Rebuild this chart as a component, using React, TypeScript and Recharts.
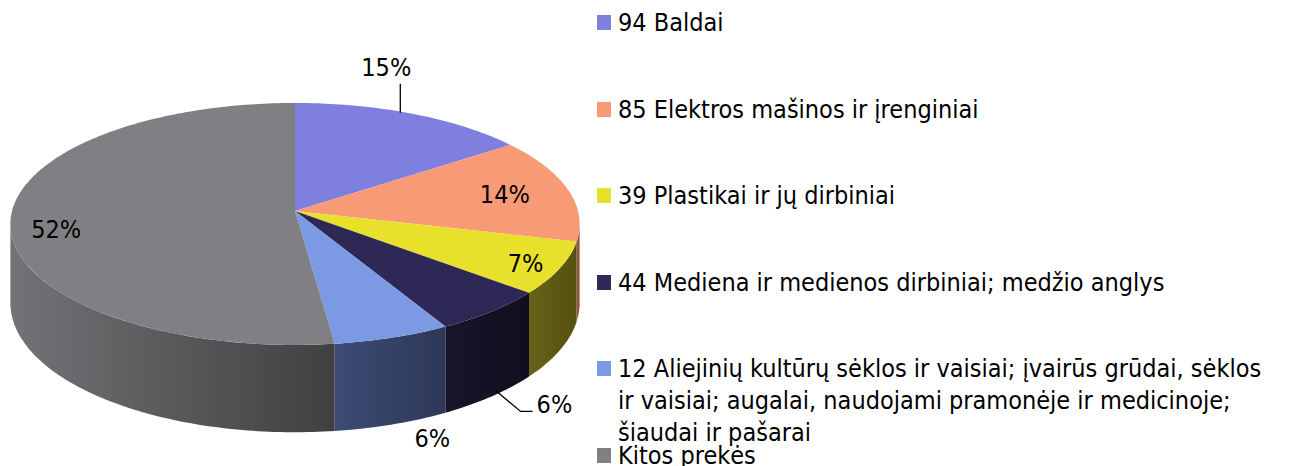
import { PieChart, Pie, Legend } from 'recharts'

const categories = [
  '94 Baldai',
  '85 Elektros mašinos ir įrenginiai',
  '39 Plastikai ir jų dirbiniai',
  '44 Mediena ir medienos dirbiniai; medžio anglys',
  '12 Aliejinių kultūrų sėklos ir vaisiai; įvairūs grūdai, sėklos ir vaisiai; augalai, naudojami pramonėje ir medicinoje; šiaudai ir pašarai',
  'Kitos prekės',
]
const shares = [15, 14, 7, 6, 6, 52]

const topColors = ['#7f7fe0', '#f79a75', '#e8e12c', '#2e2856', '#7c99e3', '#808084']
const sideColors = [
  ['#5a5aa0', '#4a4a88'],
  ['#9c5f44', '#8a5038'],
  ['#66621a', '#55510f'],
  ['#18152b', '#100e1e'],
  ['#3d4c76', '#2e3856'],
  ['#737377', '#404041'],
]

const data = categories.map((name, i) => ({ name, value: shares[i] }))

// fake 3d: tilt (y squash), a bit of perspective, wall thickness
const TILT = 0.4226
const PERSP = 0.107
const DEPTH = 78
const FONT = 'Tahoma, "DejaVu Sans Condensed", "DejaVu Sans", sans-serif'
const FONT_SIZE = 25
const RAD = Math.PI / 180
const FRONT_LO = -180 + Math.asin(PERSP) / RAD
const FRONT_HI = -Math.asin(PERSP) / RAD

function project(cx: number, cy: number, r: number, deg: number, drop = 0) {
  const u = Math.cos(deg * RAD)
  const v = Math.sin(deg * RAD)
  const f = 1 / (1 + PERSP * v)
  return [cx + r * u * f, cy - r * TILT * v * f + drop * f]
}

function rim(cx: number, cy: number, r: number, from: number, to: number, drop = 0) {
  const n = Math.max(2, Math.ceil(Math.abs(from - to)))
  const pts: number[][] = []
  for (let i = 0; i <= n; i++) pts.push(project(cx, cy, r, from + ((to - from) * i) / n, drop))
  return pts
}

const toPath = (pts: number[][]) => pts.map((p, i) => `${i ? 'L' : 'M'}${p[0].toFixed(1)},${p[1].toFixed(1)}`).join(' ')

const labelPlacement = [
  { kind: 'above', dx: -26, dy: -46, lift: 30, lineDx: -12 },
  { kind: 'inside', r: 0.77, dx: 0, dy: 0 },
  { kind: 'inside', r: 0.87, dx: 0, dy: 3 },
  { kind: 'elbow', dx: 45, dy: 8 },
  { kind: 'below', dx: 40, dy: 14 },
  { kind: 'inside', r: 0.84, dx: 0, dy: 12 },
]

function renderSlice(props: any) {
  const { cx, cy, outerRadius, startAngle, endAngle, midAngle, index, percent } = props
  const r = outerRadius
  const top = [[cx, cy], ...rim(cx, cy, r, startAngle, endAngle)]
  const hi = Math.min(startAngle, FRONT_HI)
  const lo = Math.max(endAngle, FRONT_LO)
  let wall = null
  if (hi > lo) {
    const upper = rim(cx, cy, r, hi, lo)
    const lower = rim(cx, cy, r, lo, hi, DEPTH)
    wall = <path d={toPath([...upper, ...lower]) + ' Z'} fill={`url(#wall-${index})`} />
  }

  const place = labelPlacement[index]
  const text = `${Math.round(percent * 100)}%`
  const textProps = { fontFamily: FONT, fontSize: FONT_SIZE, fill: '#000', dominantBaseline: 'central' as const }
  let label = null
  if (place.kind === 'inside') {
    const [x, y] = project(cx, cy, r * (place.r ?? 0.8), midAngle)
    label = (
      <text x={x + place.dx} y={y + place.dy} textAnchor="middle" {...textProps}>
        {text}
      </text>
    )
  } else if (place.kind === 'above') {
    const [x, y] = project(cx, cy, r, midAngle)
    const lx = x + (place.lineDx ?? 0)
    label = (
      <g>
        <line x1={lx} y1={y - 1} x2={lx} y2={y - (place.lift ?? 30)} stroke="#000" strokeWidth={1.3} />
        <text x={x + place.dx} y={y + place.dy} textAnchor="middle" {...textProps}>
          {text}
        </text>
      </g>
    )
  } else if (place.kind === 'elbow') {
    const [x, y] = project(cx, cy, r, midAngle, DEPTH)
    label = (
      <g>
        <polyline points={`${x + 4},${y - 6} ${x + 29},${y + 15} ${x + 41},${y + 15}`} fill="none" stroke="#000" strokeWidth={1.3} />
        <text x={x + place.dx} y={y + place.dy} textAnchor="start" {...textProps}>
          {text}
        </text>
      </g>
    )
  } else {
    const [x, y] = project(cx, cy, r, midAngle, DEPTH)
    label = (
      <text x={x + place.dx} y={y + place.dy} textAnchor="middle" {...textProps}>
        {text}
      </text>
    )
  }

  return (
    <g key={`slice-${index}`}>
      <defs>
        <linearGradient id={`wall-${index}`} x1="0" y1="0" x2="1" y2="0">
          <stop offset="0%" stopColor={sideColors[index][0]} />
          <stop offset="100%" stopColor={sideColors[index][1]} />
        </linearGradient>
      </defs>
      {wall}
      <path d={toPath(top) + ' Z'} fill={topColors[index]} />
      {label}
    </g>
  )
}

function renderLegend(props: any) {
  const given = props.payload && props.payload.length ? props.payload : data.map((d) => ({ value: d.name }))
  // keep the data order (legend sorts by name otherwise)
  const items = [...given].sort((a: any, b: any) => categories.indexOf(a.value) - categories.indexOf(b.value))
  return (
    <div style={{ position: 'relative', width: 670, height: 460, fontFamily: FONT, fontSize: FONT_SIZE, color: '#000' }}>
      {items.map((entry: any) => {
        const i = categories.indexOf(entry.value)
        return (
          <div key={i} style={{ position: 'absolute', left: 0, top: i * 86.6, display: 'flex', alignItems: 'flex-start' }}>
            <span style={{ width: 14, height: 15, background: topColors[i], marginTop: 8, marginRight: 7, flex: 'none' }} />
            <span style={{ lineHeight: '32px', width: 645 }}>{entry.value}</span>
          </div>
        )
      })}
    </div>
  )
}

export default function App() {
  return (
    <div style={{ position: 'absolute', left: 0, top: 0, width: 1290, height: 466, background: '#fff', overflow: 'hidden' }}>
      <PieChart width={1290} height={466} margin={{ top: 0, right: 0, bottom: 0, left: 0 }}>
        <Pie
          data={data}
          dataKey="value"
          nameKey="name"
          cx={295}
          cy={211}
          outerRadius={283}
          startAngle={90}
          endAngle={-270}
          fill="transparent"
          stroke="none"
          label={renderSlice}
          labelLine={false}
          isAnimationActive={false}
        />
        <Legend
          layout="vertical"
          align="right"
          verticalAlign="top"
          content={renderLegend}
          wrapperStyle={{ left: 597, top: 7, right: 'auto', bottom: 'auto', width: 670 }}
        />
      </PieChart>
    </div>
  )
}
